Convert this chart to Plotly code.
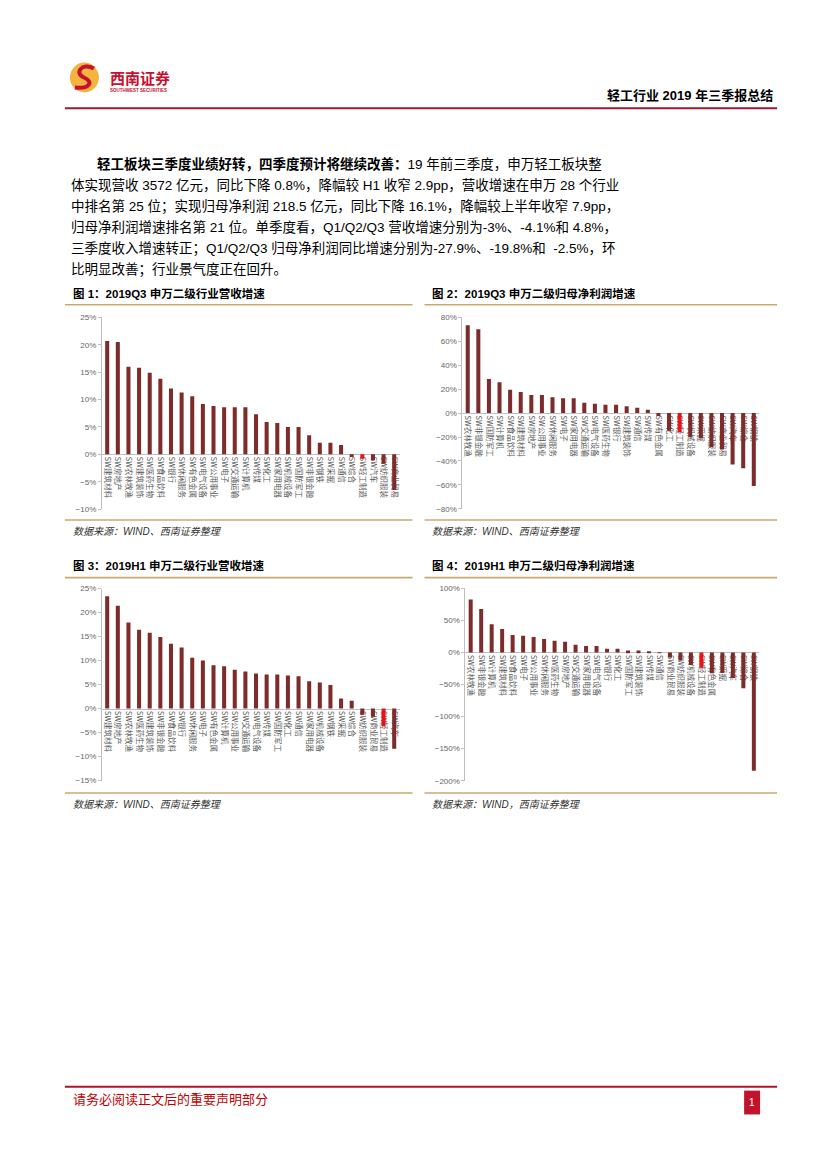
import plotly.graph_objects as go

W, H = 827, 1169

# ---------------- data ----------------
labels_q3_rev = ["SW建筑材料", "SW房地产", "SW农林牧渔", "SW建筑装饰", "SW医药生物", "SW食品饮料", "SW银行",
                 "SW休闲服务", "SW有色金属", "SW电气设备", "SW公用事业", "SW电子", "SW交通运输", "SW计算机",
                 "SW传媒", "SW化工", "SW家用电器", "SW机械设备", "SW国防军工", "SW非银金融", "SW钢铁", "SW采掘",
                 "SW通信", "SW综合", "SW轻工制造", "SW汽车", "SW纺织服装", "SW商业贸易"]
values_q3_rev = [20.7, 20.5, 16.0, 15.8, 14.9, 13.8, 12.0, 11.3, 10.6, 9.2, 8.8, 8.6, 8.6, 8.6,
                 7.3, 5.9, 5.7, 5.0, 5.0, 3.5, 2.1, 2.1, 1.7, -0.5, -0.8, -1.1, -1.7, -6.5]

labels_q3_np = ["SW农林牧渔", "SW非银金融", "SW国防军工", "SW计算机", "SW食品饮料", "SW建筑材料", "SW房地产",
                "SW公用事业", "SW休闲服务", "SW电子", "SW家用电器", "SW交通运输", "SW电气设备", "SW医药生物",
                "SW银行", "SW建筑装饰", "SW通信", "SW传媒", "SW有色金属", "SW化工", "SW轻工制造", "SW机械设备",
                "SW采掘", "SW纺织服装", "SW商业贸易", "SW汽车", "SW综合", "SW钢铁"]
values_q3_np = [73.4, 70.0, 28.5, 25.8, 19.4, 17.7, 15.2, 15.2, 13.3, 12.5, 12.5, 8.6, 7.8, 6.9,
                6.9, 5.8, 4.4, 2.8, -2.5, -14.7, -16.1, -20.0, -21.0, -28.5, -30.5, -43.0, -46.0, -61.0]

labels_h1_rev = ["SW建筑材料", "SW房地产", "SW农林牧渔", "SW医药生物", "SW建筑装饰", "SW非银金融", "SW食品饮料",
                 "SW银行", "SW休闲服务", "SW电子", "SW有色金属", "SW计算机", "SW公用事业", "SW交通运输",
                 "SW电气设备", "SW传媒", "SW国防军工", "SW化工", "SW通信", "SW家用电器", "SW机械设备", "SW钢铁",
                 "SW采掘", "SW综合", "SW纺织服装", "SW商业贸易", "SW轻工制造", "SW汽车"]
values_h1_rev = [23.4, 21.4, 17.9, 16.4, 15.8, 14.9, 13.5, 12.7, 10.6, 10.0, 9.0, 8.8, 8.1, 7.7,
                 7.3, 7.1, 7.1, 6.9, 6.7, 5.7, 5.4, 4.9, 2.1, 1.6, -1.3, -1.7, -3.7, -8.4]

labels_h1_np = ["SW农林牧渔", "SW非银金融", "SW计算机", "SW建筑材料", "SW食品饮料", "SW电子", "SW公用事业",
                "SW休闲服务", "SW医药生物", "SW房地产", "SW交通运输", "SW家用电器", "SW电气设备", "SW银行",
                "SW化工", "SW国防军工", "SW建筑装饰", "SW传媒", "SW通信", "SW商业贸易", "SW纺织服装",
                "SW机械设备", "SW轻工制造", "SW有色金属", "SW采掘", "SW汽车", "SW综合", "SW钢铁"]
values_h1_np = [82.5, 67.5, 44.0, 36.5, 27.0, 25.8, 24.0, 21.0, 18.0, 16.5, 12.0, 10.0, 10.0, 5.7,
                5.7, 3.0, 3.0, 1.5, -1.0, -8.0, -12.0, -19.6, -24.0, -32.5, -32.0, -40.0, -55.7, -184.5]

highlight = "SW轻工制造"

y_ranges = [[-10, 25], [-80, 80], [-15, 25], [-200, 100]]
y_dticks = [5, 20, 5, 50]

titles = ["图 1：2019Q3 申万二级行业营收增速", "图 2：2019Q3 申万二级归母净利润增速",
          "图 3：2019H1 申万二级行业营收增速", "图 4：2019H1 申万二级归母净利润增速"]
sources = ["数据来源：WIND、西南证券整理", "数据来源：WIND、西南证券整理",
           "数据来源：WIND、西南证券整理", "数据来源：WIND，西南证券整理"]

header_title = "轻工行业 2019 年三季报总结"
para_lines = [
    "<b>轻工板块三季度业绩好转，四季度预计将继续改善：</b>19 年前三季度，申万轻工板块整",
    "体实现营收 3572 亿元，同比下降 0.8%，降幅较 H1 收窄 2.9pp，营收增速在申万 28 个行业",
    "中排名第 25 位；实现归母净利润 218.5 亿元，同比下降 16.1%，降幅较上半年收窄 7.9pp，",
    "归母净利润增速排名第 21 位。单季度看，Q1/Q2/Q3 营收增速分别为-3%、-4.1%和 4.8%，",
    "三季度收入增速转正；Q1/Q2/Q3 归母净利润同比增速分别为-27.9%、-19.8%和  -2.5%，环",
    "比明显改善；行业景气度正在回升。",
]
footer_text = "请务必阅读正文后的重要声明部分"

# ---------------- style ----------------
BAR = "#7d2b2b"
RED = "#e8121a"
GOLD = "#c9aa6e"
AXIS = "#bfbfbf"
CJK = "Noto Sans CJK SC"
MIX = "Liberation Sans, Noto Sans CJK SC"


def px(x):
    return x / W


def py(y):
    return 1 - y / H


# plot areas in pixels: (left, right, top, bottom)
areas = [(94, 392, 307.7, 501), (455, 752, 307.7, 500.7),
         (94, 392, 581, 774.5), (458, 752, 580.7, 774.7)]

datasets = [(labels_q3_rev, values_q3_rev), (labels_q3_np, values_q3_np),
            (labels_h1_rev, values_h1_rev), (labels_h1_np, values_h1_np)]

fig = go.Figure()
layout = dict(width=W, height=H, margin=dict(l=0, r=0, t=0, b=0),
              paper_bgcolor="white", plot_bgcolor="white", showlegend=False,
              bargap=0.62, font=dict(family=MIX))

for i, ((labs, vals), (l, r, t, b), yr, dt) in enumerate(zip(datasets, areas, y_ranges, y_dticks), start=1):
    sfx = "" if i == 1 else str(i)
    colors = [RED if lab == highlight else BAR for lab in labs]
    fig.add_trace(go.Bar(x=labs, y=vals, marker=dict(color=colors, line=dict(width=0)),
                         xaxis="x" + sfx, yaxis="y" + sfx, hoverinfo="x+y"))
    y0, y1 = py(b), py(t)
    zero_pos = y0 + (0 - yr[0]) / (yr[1] - yr[0]) * (y1 - y0)
    layout["xaxis" + sfx] = dict(domain=[px(l), px(r)], anchor="free", position=zero_pos,
                                 type="category", range=[-0.5, len(labs) - 0.5],
                                 tickangle=90, showline=True, linecolor=AXIS, linewidth=1,
                                 ticks="", showgrid=False, zeroline=False, layer="below traces",
                                 tickfont=dict(family=CJK, size=7.5, color="#595959"),
                                 fixedrange=True)
    layout["yaxis" + sfx] = dict(domain=[y0, y1], anchor="x" + sfx, range=yr, dtick=dt,
                                 ticksuffix="%", showline=True, linecolor=AXIS, linewidth=1,
                                 ticks="outside", ticklen=3, tickcolor=AXIS, showgrid=False,
                                 zeroline=False,
                                 tickfont=dict(family="Liberation Sans", size=8, color="#666666"),
                                 fixedrange=True)

shapes = []
annotations = []


def hline(x0, x1, y, color, width):
    shapes.append(dict(type="line", xref="paper", yref="paper", x0=px(x0), x1=px(x1),
                       y0=py(y), y1=py(y), line=dict(color=color, width=width)))


def text(x, y, s, size, color="#000000", xanchor="left", family=MIX):
    annotations.append(dict(xref="paper", yref="paper", x=px(x), y=py(y), text=s,
                            showarrow=False, xanchor=xanchor, yanchor="middle",
                            font=dict(family=family, size=size, color=color)))


# header
shapes.append(dict(type="circle", xref="paper", yref="paper", x0=px(62), x1=px(91), y0=py(81), y1=py(51),
                   fillcolor="#f3b440", line=dict(width=0)))
s_path = "M {} {} C {} {} {} {} {} {} S {} {} {} {}".format(
    px(86), py(57), px(74), py(50), px(66), py(62), px(76), py(66),
    px(82), py(78), px(67), py(76))
shapes.append(dict(type="path", xref="paper", yref="paper", path=s_path,
                   line=dict(color="#c8102e", width=4)))
text(100, 66, "<b>西南证券</b>", 15, "#c8102e", family=CJK)
text(100, 79.5, "<b>SOUTHWEST SECURITIES</b>", 4.5, "#c8102e", family="Liberation Sans")
text(768, 84, "<b>" + header_title + "</b>", 13, "#000000", xanchor="right")
hline(57, 770, 97, "#a3162b", 2.2)

# paragraph
para_y0, para_dy = 153, 21.3
for k, line in enumerate(para_lines):
    x0 = 87 if k == 0 else 61
    text(x0, para_y0 + k * para_dy, line, 13.5, "#000000")

# chart frames / titles / sources
frames = [(57, 405, 284, 295, 512, 524), (417, 770, 284, 295, 512, 524),
          (57, 405, 558, 570, 787, 799), (417, 770, 558, 570, 787, 799)]
for (x0, x1, ty, tl, bl, sy), ttl, src in zip(frames, titles, sources):
    text(x0 + 6, ty, "<b>" + ttl + "</b>", 11.5, "#000000")
    hline(x0, x1, tl, GOLD, 1.6)
    hline(x0, x1, bl, GOLD, 1.6)
    text(x0 + 6, sy, "<i>" + src + "</i>", 10, "#333333")

# footer
hline(57, 770, 1083, "#b5122b", 2)
text(63, 1095, footer_text, 13, "#c00000", family=CJK)
shapes.append(dict(type="rect", xref="paper", yref="paper", x0=px(737), x1=px(753), y0=py(1111), y1=py(1087),
                   fillcolor="#c0142c", line=dict(width=0)))
text(745, 1099, "1", 10, "#ffffff", xanchor="center", family="Liberation Sans")

layout["shapes"] = shapes
layout["annotations"] = annotations
fig.update_layout(**layout)
fig.write_html("out.html")
